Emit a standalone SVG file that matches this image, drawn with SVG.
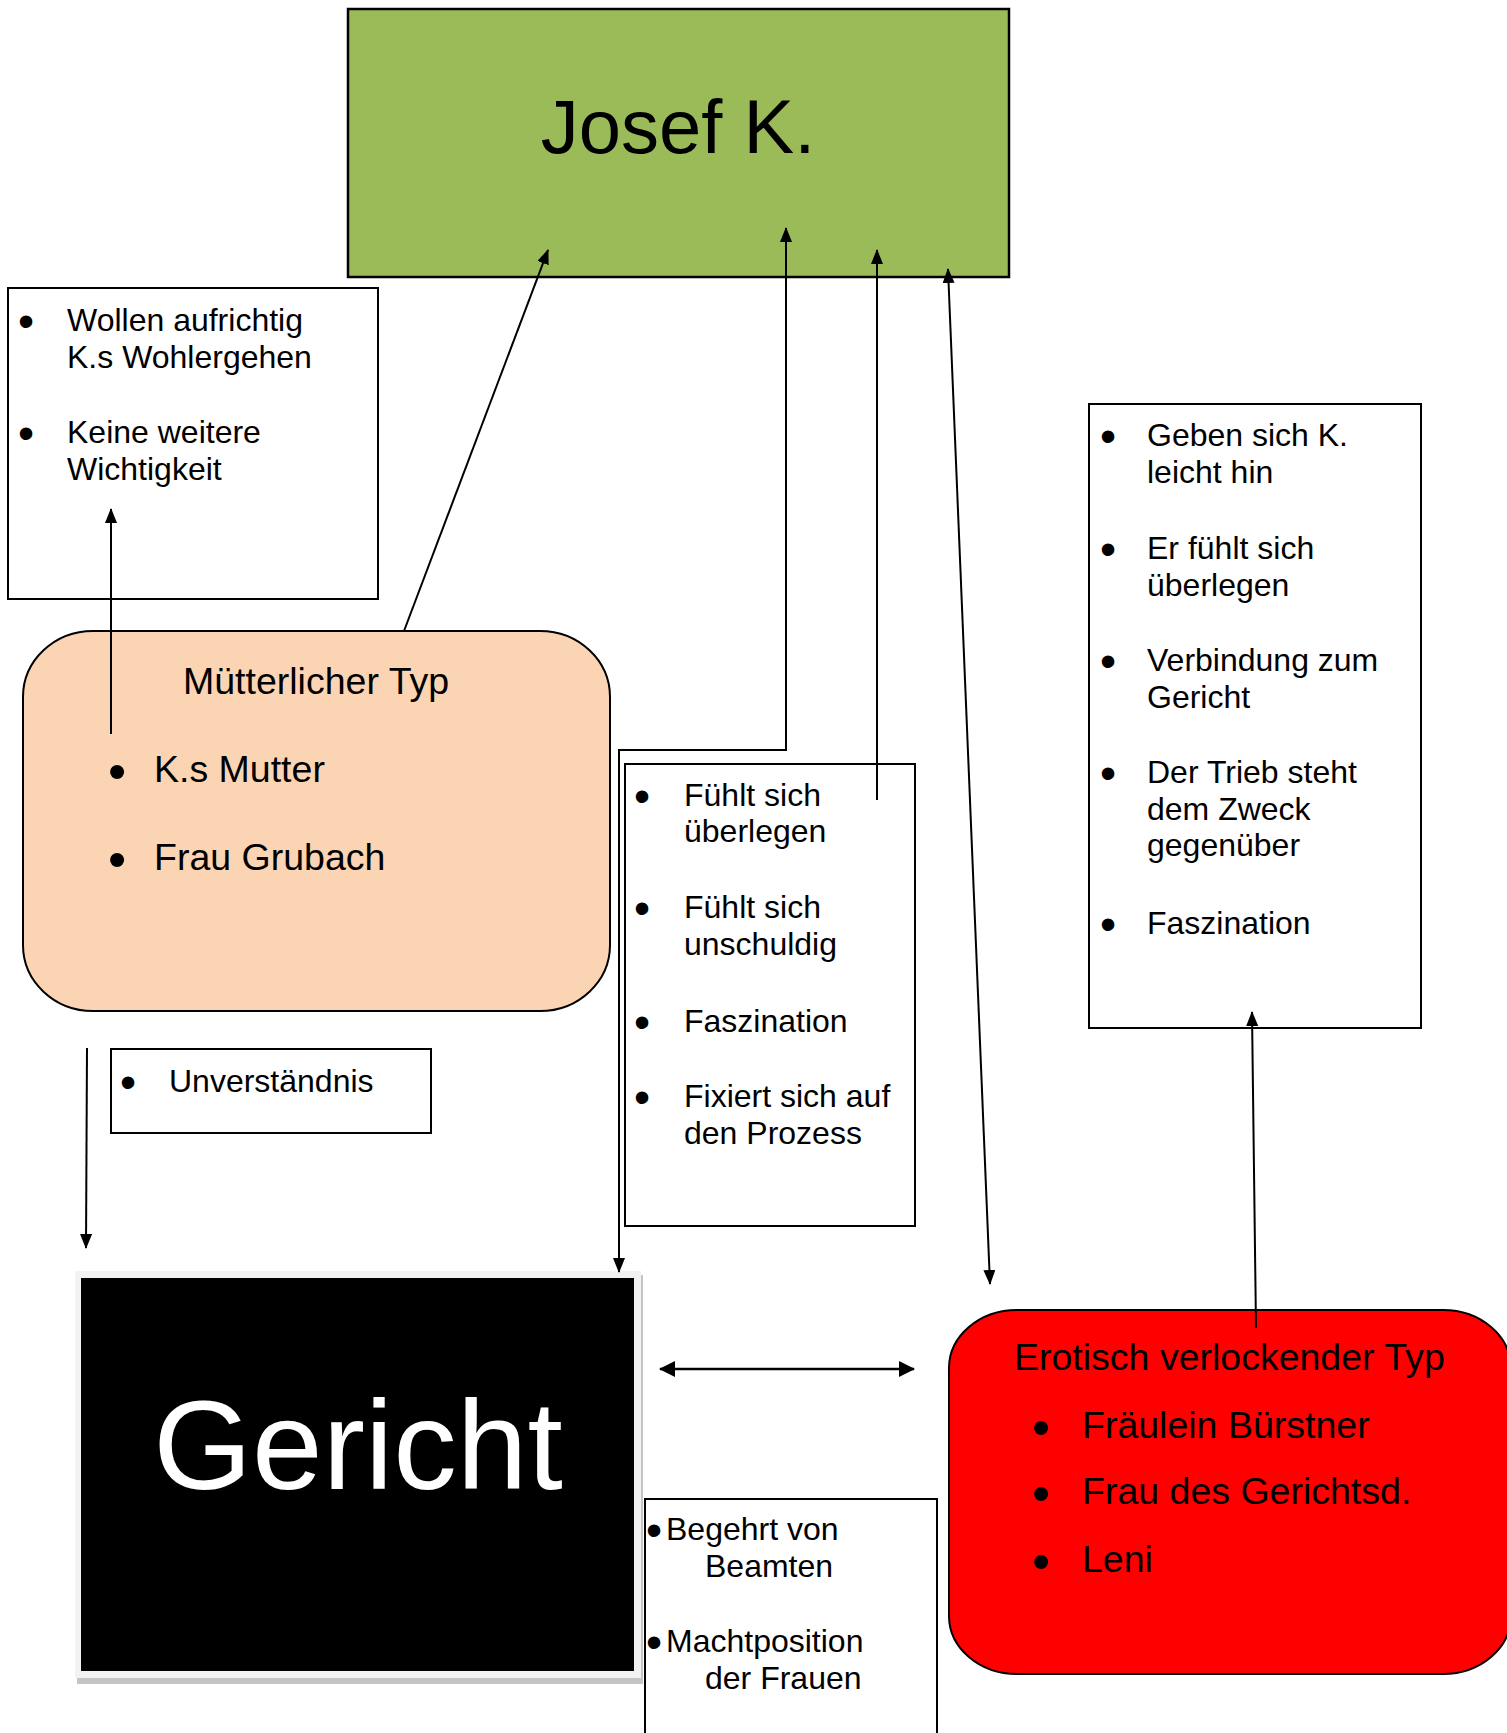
<svg xmlns="http://www.w3.org/2000/svg" width="1507" height="1733" viewBox="0 0 1507 1733">
<style>
text{font-family:"Liberation Sans",Arial,sans-serif;fill:#000}
.t32{font-size:32px}
.t37{font-size:37.5px}
.b32{font-size:46px;text-anchor:middle}
.b37{font-size:52px;text-anchor:middle}
.box{fill:#fff;stroke:#000;stroke-width:2}
.ln{fill:none;stroke:#000;stroke-width:2}
</style>
<defs>
<marker id="ah" viewBox="0 0 15 12" refX="14" refY="6" markerUnits="userSpaceOnUse" markerWidth="15" markerHeight="12" orient="auto-start-reverse">
<path d="M0,0 L15,6 L0,12 z" fill="#000"/>
</marker>
<marker id="ahb" viewBox="0 0 16 16" refX="15" refY="8" markerUnits="userSpaceOnUse" markerWidth="16" markerHeight="16" orient="auto-start-reverse">
<path d="M0,0 L16,8 L0,16 z" fill="#000"/>
</marker>
</defs>
<rect width="1507" height="1733" fill="#fff"/>

<g id="josef">
<rect x="348" y="9" width="661" height="268" fill="#9BBB59" stroke="#000" stroke-width="2.5"/>
<text x="678" y="153" font-size="76" text-anchor="middle">Josef K.</text>
</g>

<g id="muetterlich-info">
<rect class="box" x="8" y="288" width="370" height="311"/>
<text class="b32" x="26" y="337">•</text>
<text class="t32" x="67" y="331">Wollen aufrichtig</text>
<text class="t32" x="67" y="368">K.s Wohlergehen</text>
<text class="b32" x="26" y="449">•</text>
<text class="t32" x="67" y="443">Keine weitere</text>
<text class="t32" x="67" y="480">Wichtigkeit</text>
</g>

<g id="muetterlich">
<rect x="23" y="631" width="587" height="380" rx="70" ry="66" fill="#FBD4B4" stroke="#000" stroke-width="2"/>
<text class="t37" x="183" y="694">Mütterlicher Typ</text>
<text class="b37" x="117" y="789">•</text>
<text class="t37" x="154" y="782">K.s Mutter</text>
<text class="b37" x="117" y="877">•</text>
<text class="t37" x="154" y="870">Frau Grubach</text>
</g>

<g id="unverstaendnis">
<rect class="box" x="111" y="1049" width="320" height="84"/>
<text class="b32" x="128" y="1098">•</text>
<text class="t32" x="169" y="1092">Unverständnis</text>
</g>

<g id="gericht-info">
<rect class="box" x="625" y="764" width="290" height="462"/>
<text class="b32" x="642" y="812">•</text>
<text class="t32" x="684" y="806">Fühlt sich</text>
<text class="t32" x="684" y="842">überlegen</text>
<text class="b32" x="642" y="924">•</text>
<text class="t32" x="684" y="918">Fühlt sich</text>
<text class="t32" x="684" y="955">unschuldig</text>
<text class="b32" x="642" y="1038">•</text>
<text class="t32" x="684" y="1032">Faszination</text>
<text class="b32" x="642" y="1113">•</text>
<text class="t32" x="684" y="1107">Fixiert sich auf</text>
<text class="t32" x="684" y="1144">den Prozess</text>
</g>

<g id="erotisch-info">
<rect class="box" x="1089" y="404" width="332" height="624"/>
<text class="b32" x="1108" y="452">•</text>
<text class="t32" x="1147" y="446">Geben sich K.</text>
<text class="t32" x="1147" y="483">leicht hin</text>
<text class="b32" x="1108" y="565">•</text>
<text class="t32" x="1147" y="559">Er fühlt sich</text>
<text class="t32" x="1147" y="596">überlegen</text>
<text class="b32" x="1108" y="677">•</text>
<text class="t32" x="1147" y="671">Verbindung zum</text>
<text class="t32" x="1147" y="708">Gericht</text>
<text class="b32" x="1108" y="789">•</text>
<text class="t32" x="1147" y="783">Der Trieb steht</text>
<text class="t32" x="1147" y="820">dem Zweck</text>
<text class="t32" x="1147" y="856">gegenüber</text>
<text class="b32" x="1108" y="940">•</text>
<text class="t32" x="1147" y="934">Faszination</text>
</g>

<g id="gericht">
<rect x="77" y="1275" width="566" height="409" fill="#C4C4C4"/>
<rect x="75" y="1271" width="566" height="407" fill="#F2F2F2"/>
<rect x="81" y="1278" width="553" height="393" fill="#000"/>
<text x="358" y="1489" font-size="127" text-anchor="middle" style="fill:#fff">Gericht</text>
</g>

<g id="frauen-info">
<rect class="box" x="645" y="1499" width="292" height="250"/>
<text class="b32" x="654" y="1546">•</text>
<text class="t32" x="666" y="1540">Begehrt von</text>
<text class="t32" x="705" y="1577">Beamten</text>
<text class="b32" x="654" y="1658">•</text>
<text class="t32" x="666" y="1652">Machtposition</text>
<text class="t32" x="705" y="1689">der Frauen</text>
</g>

<g id="erotisch">
<rect x="949" y="1310" width="562" height="364" rx="68" ry="58" fill="#FF0000" stroke="#000" stroke-width="2"/>
<text class="t37" x="1014" y="1370">Erotisch verlockender Typ</text>
<text class="b37" x="1041" y="1445">•</text>
<text class="t37" x="1082" y="1438">Fräulein Bürstner</text>
<text class="b37" x="1041" y="1511">•</text>
<text class="t37" x="1082" y="1504">Frau des Gerichtsd.</text>
<text class="b37" x="1041" y="1579">•</text>
<text class="t37" x="1082" y="1572">Leni</text>
</g>

<g id="connectors">
<line class="ln" x1="404" y1="631" x2="548" y2="250" marker-end="url(#ah)"/>
<line class="ln" x1="111" y1="734" x2="111" y2="509" marker-end="url(#ah)"/>
<path class="ln" d="M619,1272 L619,750 L786,750 L786,228" marker-start="url(#ah)" marker-end="url(#ah)"/>
<line class="ln" x1="877" y1="800" x2="877" y2="250" marker-end="url(#ah)"/>
<line class="ln" x1="990" y1="1284" x2="948" y2="269" marker-start="url(#ah)" marker-end="url(#ah)"/>
<line class="ln" x1="1256" y1="1328" x2="1252" y2="1012" marker-end="url(#ah)"/>
<line class="ln" x1="87" y1="1048" x2="86" y2="1248" marker-end="url(#ah)"/>
<line x1="660" y1="1369" x2="914" y2="1369" stroke="#000" stroke-width="2.5" marker-start="url(#ahb)" marker-end="url(#ahb)"/>
</g>
</svg>
